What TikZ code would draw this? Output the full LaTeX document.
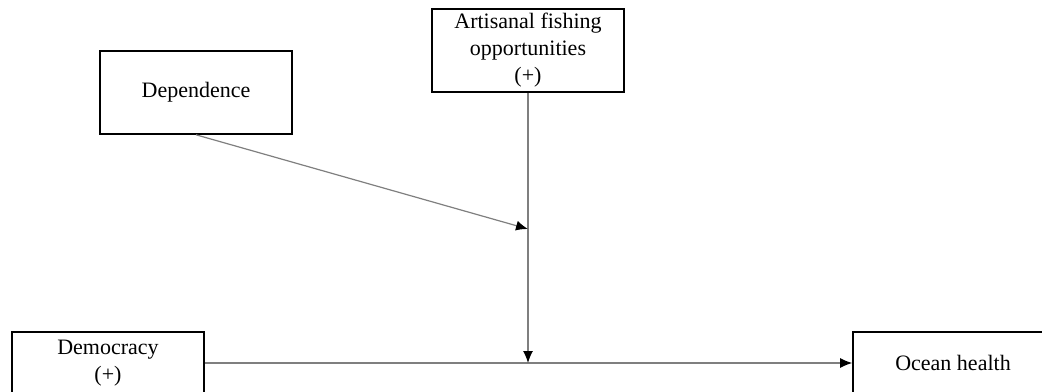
\documentclass[tikz,border=0pt]{standalone}
\usepackage{fontspec}
\setmainfont{Liberation Serif}
\usetikzlibrary{arrows.meta,positioning}
\definecolor{linegray}{HTML}{7F7F7F}

\begin{document}
\begin{tikzpicture}[x=0.5pt,y=-0.5pt,
  box/.style={draw=black,line width=0.8pt,minimum width=96pt,minimum height=41.5pt,align=center,
              font=\fontsize{11}{13.5}\selectfont,inner sep=0pt},
  lowbox/.style={box,minimum height=31pt},
  arr/.style={-{Latex[length=6pt,width=5pt,black]},line width=0.6pt,color=linegray}]
  \useasboundingbox (0,0) rectangle (1042,391);
  \clip (0,0) rectangle (1042,391);
  \node[box] (dep) at (196,92.5) {Dependence};
  \node[box] (art) at (528,50.5) {Artisanal fishing\\opportunities\\(+)};
  \node[lowbox] (dem) at (108,363) {Democracy\\(+)};
  \node[lowbox,minimum width=100pt] (ocean) at (953,363) {Ocean health};
  \coordinate (mod) at (528,229);
  \coordinate (hit) at (dem.east -| art.south);
  \draw[arr] (dem.east) -- (ocean.west);
  \draw[arr] (art.south) -- (hit);
  \draw[arr] (dep.south) -- (mod);
\end{tikzpicture}
\end{document}
